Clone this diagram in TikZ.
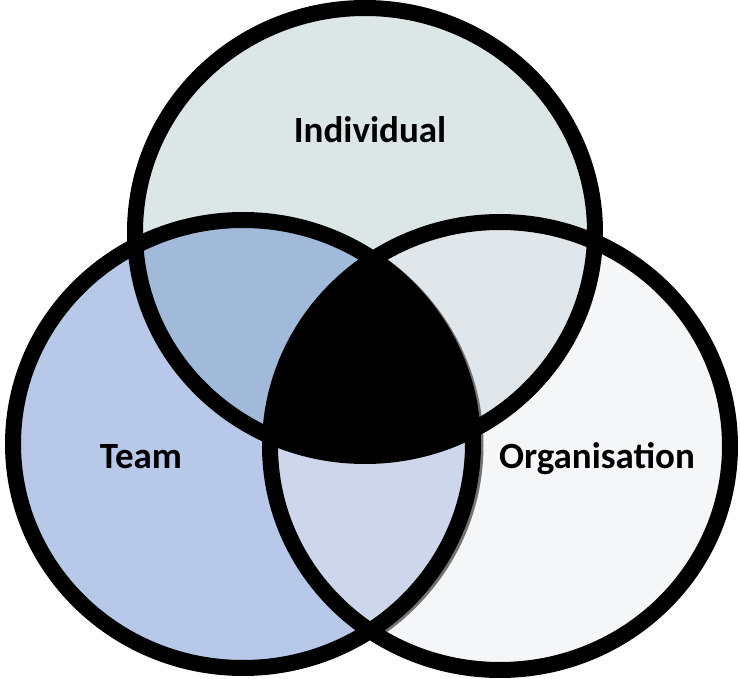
\documentclass[tikz,border=0pt]{standalone}
\usepackage{fontspec}
\setmainfont{Carlito}
\definecolor{cI}{HTML}{DCE6E6}
\definecolor{cT}{HTML}{B7C8E8}
\definecolor{cO}{HTML}{F5F6F8}
\definecolor{cIT}{HTML}{A2BADA}
\definecolor{cIO}{HTML}{E0E6E9}
\definecolor{cTO}{HTML}{CDD6EA}
\begin{document}
\begin{tikzpicture}[x=1pt,y=-1pt,
  ring/.style={draw=black, line width=16pt},
  lab/.style={font=\bfseries\fontsize{37}{37}\selectfont, anchor=base, inner sep=0pt}]
\useasboundingbox (0,0) rectangle (740,679);
% base fills
\fill[cI] (365,232) ellipse [x radius=230pt, y radius=224pt];
\fill[cT] (243,444) ellipse [x radius=230pt, y radius=224pt];
\fill[cO] (500,446) ellipse [x radius=230pt, y radius=224pt];
% pairwise intersections
\begin{scope}
  \clip (365,232) ellipse [x radius=230pt, y radius=224pt];
  \fill[cIT] (243,444) ellipse [x radius=230pt, y radius=224pt];
  \fill[cIO] (500,446) ellipse [x radius=230pt, y radius=224pt];
\end{scope}
\begin{scope}
  \clip (243,444) ellipse [x radius=230pt, y radius=224pt];
  \fill[cTO] (500,446) ellipse [x radius=230pt, y radius=224pt];
\end{scope}
% triple intersection
\begin{scope}
  \clip (365,232) ellipse [x radius=230pt, y radius=224pt];
  \clip (243,444) ellipse [x radius=230pt, y radius=224pt];
  \fill[black] (500,446) ellipse [x radius=230pt, y radius=224pt];
\end{scope}
% soft shadow of the Team ring
\begin{scope}
  \clip (374,252) rectangle (500,636);
  \draw[black!55, line width=16pt] (245.5,445.5) ellipse [x radius=230pt, y radius=224pt];
\end{scope}
% rings
\draw[ring] (365,232) ellipse [x radius=230pt, y radius=224pt];
\draw[ring] (243,444) ellipse [x radius=230pt, y radius=224pt];
\draw[ring] (500,446) ellipse [x radius=230pt, y radius=224pt];
% labels
\node[lab] (ind) at (370,143) {Individual};
\node[lab] (team) at (141,468) {Team};
\node[lab] (org) at (597,468) {Organisation};
\end{tikzpicture}
\end{document}
